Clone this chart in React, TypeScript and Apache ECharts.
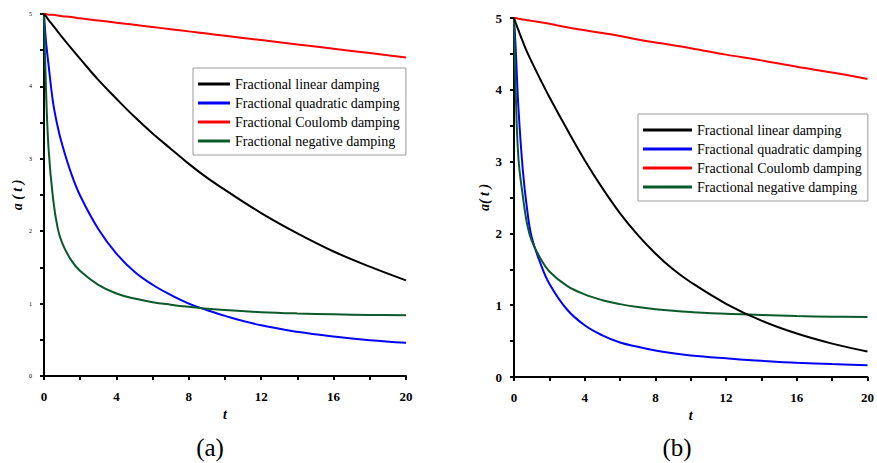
import React, { useEffect, useRef } from "react";
import * as echarts from "echarts";

const T = [0, 0.1, 0.25, 0.5, 0.75, 1, 1.5, 2, 3, 4, 5, 6, 7, 8, 9, 10, 12, 14, 16, 18, 20];

const seriesNames = [
  "Fractional linear damping",
  "Fractional quadratic damping",
  "Fractional Coulomb damping",
  "Fractional negative damping",
];
const seriesColors = ["#000000", "#0000ff", "#ff0000", "#0b5a2c"];

// Panel (a)
const linearA = [5, 4.97, 4.92, 4.84, 4.76, 4.68, 4.53, 4.38, 4.09, 3.83, 3.58, 3.35, 3.14, 2.93, 2.74, 2.57, 2.25, 1.97, 1.72, 1.51, 1.32];
const quadA = [5, 4.65, 4.3, 3.78, 3.45, 3.2, 2.8, 2.49, 2.03, 1.69, 1.44, 1.26, 1.12, 1.0, 0.91, 0.83, 0.7, 0.61, 0.545, 0.495, 0.46];
const coulombA = [5, 5.0, 4.99, 4.99, 4.98, 4.97, 4.96, 4.94, 4.91, 4.88, 4.85, 4.82, 4.79, 4.76, 4.73, 4.7, 4.64, 4.58, 4.52, 4.46, 4.4];
const negativeA = [5, 4.05, 3.15, 2.45, 2.05, 1.84, 1.6, 1.45, 1.26, 1.14, 1.07, 1.02, 0.985, 0.955, 0.93, 0.91, 0.882, 0.864, 0.852, 0.844, 0.84];

// Panel (b)
const linearB = [5, 4.93, 4.83, 4.67, 4.52, 4.39, 4.14, 3.9, 3.45, 3.02, 2.63, 2.28, 1.98, 1.72, 1.5, 1.32, 1.02, 0.785, 0.605, 0.465, 0.355];
const quadB = [5, 4.55, 3.75, 2.88, 2.32, 1.95, 1.58, 1.3, 0.94, 0.72, 0.58, 0.48, 0.42, 0.37, 0.33, 0.3, 0.26, 0.225, 0.2, 0.18, 0.165];
const coulombB = [5, 5.0, 4.99, 4.98, 4.97, 4.96, 4.94, 4.92, 4.87, 4.83, 4.79, 4.75, 4.7, 4.66, 4.62, 4.58, 4.49, 4.41, 4.32, 4.24, 4.15];
const negativeB = [5, 3.95, 3.05, 2.52, 2.12, 1.9, 1.65, 1.47, 1.27, 1.15, 1.07, 1.015, 0.975, 0.945, 0.922, 0.905, 0.88, 0.865, 0.85, 0.84, 0.835];

const panelA = [linearA, quadA, coulombA, negativeA];
const panelB = [linearB, quadB, coulombB, negativeB];

const SERIF = "Liberation Serif";

function pairs(vals: number[]) {
  return T.map((t, i) => [t, vals[i]]);
}

function makeX(gridIndex: number) {
  return {
    type: "value",
    gridIndex,
    min: 0,
    max: 20,
    interval: 4,
    name: "t",
    nameLocation: "middle",
    nameGap: 30,
    nameTextStyle: { fontFamily: SERIF, fontSize: 14, fontWeight: "bold", fontStyle: "italic", color: "#000" },
    axisLine: { show: true, onZero: false, lineStyle: { color: "#000", width: 2 } },
    axisTick: { show: true, inside: false, length: 4, lineStyle: { color: "#000", width: 2 } },
    minorTick: { show: true, splitNumber: 2, length: 4, lineStyle: { color: "#000", width: 2 } },
    axisLabel: { fontFamily: SERIF, fontSize: 13, fontWeight: "bold", color: "#000", margin: 14 },
    splitLine: { show: false },
    minorSplitLine: { show: false },
  };
}

function makeY(gridIndex: number, name: string, small: boolean) {
  return {
    type: "value",
    gridIndex,
    min: 0,
    max: 5,
    interval: 1,
    name,
    nameLocation: "middle",
    nameRotate: 90,
    nameGap: 20,
    nameTextStyle: { fontFamily: SERIF, fontSize: 14, fontWeight: "bold", fontStyle: "italic", color: "#000" },
    axisLine: { show: true, onZero: false, lineStyle: { color: "#000", width: 2 } },
    axisTick: { show: true, inside: false, length: 4, lineStyle: { color: "#000", width: 2 } },
    minorTick: { show: true, splitNumber: 2, length: 4, lineStyle: { color: "#000", width: 2 } },
    axisLabel: small
      ? { fontFamily: SERIF, fontSize: 6, color: "#000", margin: 12 }
      : { fontFamily: SERIF, fontSize: 13, fontWeight: "bold", color: "#000", margin: 12 },
    splitLine: { show: false },
    minorSplitLine: { show: false },
  };
}

function makeLegend(left: number, top: number, itemWidth: number) {
  return {
    orient: "vertical",
    left,
    top,
    data: seriesNames,
    icon: "rect",
    itemWidth,
    itemHeight: 3,
    itemGap: 5,
    padding: [9, 6, 7, 5],
    borderColor: "#9a9a9a",
    borderWidth: 1,
    backgroundColor: "#fff",
    selectedMode: false,
    textStyle: { fontFamily: SERIF, fontSize: 14, color: "#000", lineHeight: 14 },
  };
}

export default function App() {
  const ref = useRef<HTMLDivElement>(null);
  useEffect(() => {
    if (!ref.current) return;
    const chart = echarts.init(ref.current, undefined, { renderer: "svg" });
    const series: any[] = [];
    [panelA, panelB].forEach((panel, pi) => {
      panel.forEach((vals, si) => {
        series.push({
          type: "line",
          name: seriesNames[si],
          xAxisIndex: pi,
          yAxisIndex: pi,
          data: pairs(vals),
          smooth: 0.4,
          showSymbol: false,
          symbol: "none",
          lineStyle: { color: seriesColors[si], width: 2 },
          itemStyle: { color: seriesColors[si] },
          z: si === 0 ? 5 : 3,
        });
      });
    });
    chart.setOption({
      animation: false,
      backgroundColor: "#fff",
      textStyle: { fontFamily: SERIF },
      grid: [
        { left: 44, top: 14, width: 362, height: 362 },
        { left: 514, top: 18, width: 360, height: 359 },
      ],
      xAxis: [makeX(0), makeX(1)],
      yAxis: [makeY(0, "a ( t )", true), makeY(1, "a( t )", false)],
      legend: [makeLegend(193, 68, 32), makeLegend(638, 114, 49)],
      series,
      graphic: [
        {
          type: "text",
          x: 210,
          y: 447,
          style: { text: "(a)", fontFamily: SERIF, fontSize: 25, fill: "#000", align: "center", verticalAlign: "middle" },
        },
        {
          type: "text",
          x: 677,
          y: 447,
          style: { text: "(b)", fontFamily: SERIF, fontSize: 25, fill: "#000", align: "center", verticalAlign: "middle" },
        },
      ],
    });
    return () => chart.dispose();
  }, []);
  return (
    <div
      ref={ref}
      style={{ position: "absolute", left: 0, top: 0, width: 877, height: 463, background: "#fff" }}
    />
  );
}
